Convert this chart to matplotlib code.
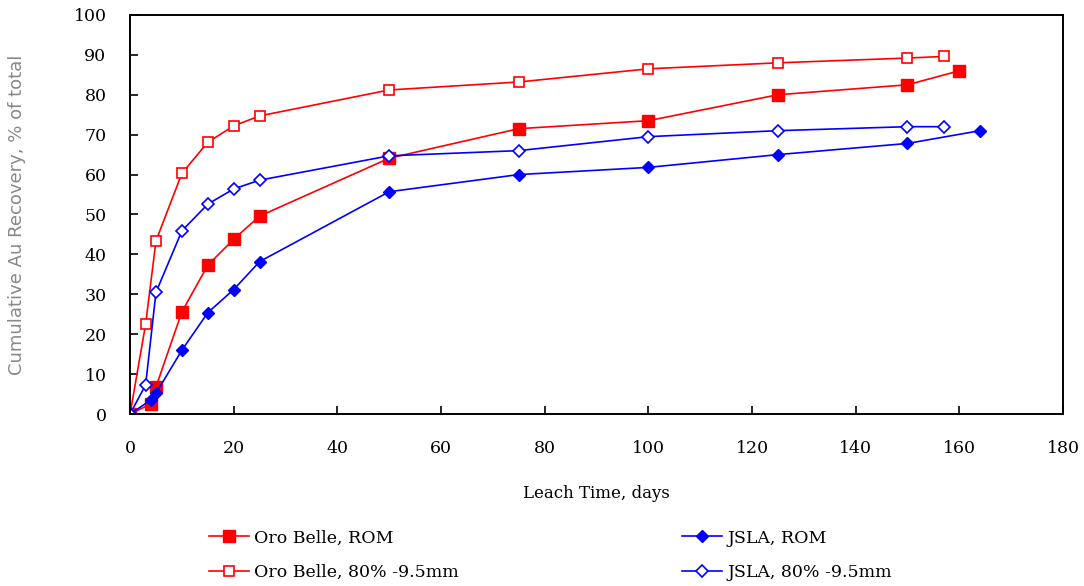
import matplotlib
matplotlib.use("Agg")
import matplotlib.pyplot as plt

# 資料
ob_rom_x = [0, 4, 5, 10, 15, 20, 25, 50, 75, 100, 125, 150, 160]
ob_rom_y = [0, 2.5, 6.8, 25.6, 37.3, 43.8, 49.6, 64.1, 71.5, 73.5, 80, 82.5, 86]

ob_95_x = [0, 3, 5, 10, 15, 20, 25, 50, 75, 100, 125, 150, 157]
ob_95_y = [0, 22.5, 43.4, 60.3, 68.1, 72.2, 74.7, 81.2, 83.2, 86.5, 88, 89.2, 89.6]

js_rom_x = [0, 4, 5, 10, 15, 20, 25, 50, 75, 100, 125, 150, 164]
js_rom_y = [0, 3.5, 5.2, 16, 25.4, 31.2, 38.2, 55.7, 60, 61.8, 65, 67.8, 71]

js_95_x = [0, 3, 5, 10, 15, 20, 25, 50, 75, 100, 125, 150, 157]
js_95_y = [0, 7.3, 30.5, 45.9, 52.6, 56.4, 58.6, 64.7, 66, 69.5, 71, 72, 72]

labels = ["Oro Belle, ROM", "Oro Belle, 80% -9.5mm", "JSLA, ROM", "JSLA, 80% -9.5mm"]

serif = "DejaVu Serif"
red = "#ff0000"
blue = "#0000ff"

fig = plt.figure(figsize=(10.84, 5.86), dpi=100)
ax = fig.add_axes([0.12, 0.2935, 0.8606, 0.681])

l1, = ax.plot(ob_rom_x, ob_rom_y, color=red, lw=1.2, marker="s", ms=8.5,
              mfc=red, mec=red)
l2, = ax.plot(ob_95_x, ob_95_y, color=red, lw=1.2, marker="s", ms=7.5,
              mfc="white", mec=red, mew=1.2)
l3, = ax.plot(js_rom_x, js_rom_y, color=blue, lw=1.2, marker="D", ms=6,
              mfc=blue, mec=blue)
l4, = ax.plot(js_95_x, js_95_y, color=blue, lw=1.2, marker="D", ms=6,
              mfc="white", mec=blue, mew=1.2)

ax.set_xlim(0, 180)
ax.set_ylim(0, 100)
ax.set_xticks(range(0, 181, 20))
ax.set_yticks(range(0, 101, 10))
ax.tick_params(direction="in", length=6, width=1.2, labelsize=12.5)
ax.tick_params(axis="x", pad=19)
ax.tick_params(axis="y", pad=17)
for lab in ax.get_xticklabels() + ax.get_yticklabels():
    lab.set_fontfamily(serif)
for s in ax.spines.values():
    s.set_linewidth(1.4)

ax.set_xlabel("Leach Time, days", fontfamily=serif, fontsize=12, labelpad=20)
ax.set_ylabel("Cumulative Au Recovery, % of total", fontfamily="DejaVu Sans",
              fontsize=13, color="#888888", labelpad=34)

fig.legend([l1, l2, l3, l4], labels, ncol=2, loc="lower left",
           bbox_to_anchor=(0.178, -0.018), frameon=False,
           prop={"family": serif, "size": 12.5}, handlelength=2.3,
           columnspacing=12.9, handletextpad=0.3, labelspacing=1.0)

fig.savefig("out.png", dpi=100)
